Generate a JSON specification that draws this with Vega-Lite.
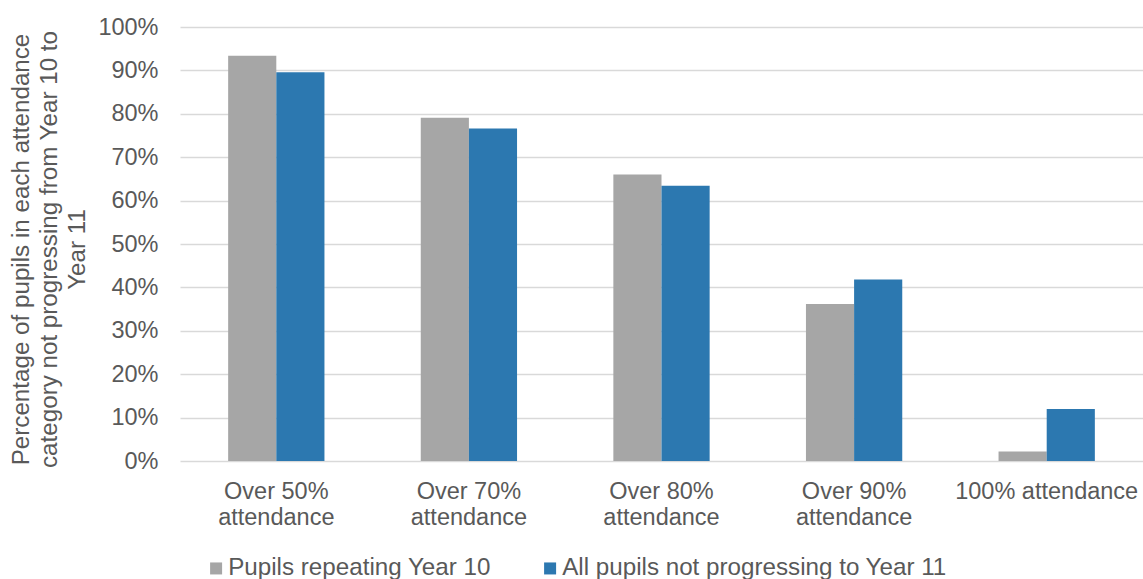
{
  "$schema": "https://vega.github.io/schema/vega-lite/v6.json",
  "width": 963,
  "height": 434,
  "autosize": "none",
  "padding": {"left": 180, "top": 27, "right": 0, "bottom": 118},
  "background": "white",
  "config": {
    "font": "Liberation Sans",
    "view": {"stroke": null}
  },
  "data": {
    "values": [
      {"category": "Over 50% attendance", "series": "Pupils repeating Year 10", "value": 0.934},
      {"category": "Over 50% attendance", "series": "All pupils not progressing to Year 11", "value": 0.896},
      {"category": "Over 70% attendance", "series": "Pupils repeating Year 10", "value": 0.791},
      {"category": "Over 70% attendance", "series": "All pupils not progressing to Year 11", "value": 0.766},
      {"category": "Over 80% attendance", "series": "Pupils repeating Year 10", "value": 0.660},
      {"category": "Over 80% attendance", "series": "All pupils not progressing to Year 11", "value": 0.634},
      {"category": "Over 90% attendance", "series": "Pupils repeating Year 10", "value": 0.362},
      {"category": "Over 90% attendance", "series": "All pupils not progressing to Year 11", "value": 0.418},
      {"category": "100% attendance", "series": "Pupils repeating Year 10", "value": 0.022},
      {"category": "100% attendance", "series": "All pupils not progressing to Year 11", "value": 0.120}
    ]
  },
  "mark": {"type": "bar"},
  "encoding": {
    "x": {
      "field": "category",
      "type": "nominal",
      "sort": null,
      "scale": {"paddingInner": 0.5, "paddingOuter": 0.25},
      "axis": {
        "title": null,
        "labelAngle": 0,
        "labelExpr": "indexof(datum.value, 'Over') == 0 ? [slice(datum.value, 0, 8), 'attendance'] : datum.value",
        "labelFontSize": 23.5,
        "labelLineHeight": 26,
        "labelColor": "#595959",
        "labelPadding": 18,
        "labelBaseline": "top",
        "labelLimit": 400,
        "domain": false,
        "ticks": false,
        "grid": false
      }
    },
    "xOffset": {
      "field": "series",
      "type": "nominal",
      "sort": ["Pupils repeating Year 10", "All pupils not progressing to Year 11"]
    },
    "y": {
      "field": "value",
      "type": "quantitative",
      "scale": {"domain": [0, 1]},
      "axis": {
        "values": [0, 0.1, 0.2, 0.3, 0.4, 0.5, 0.6, 0.7, 0.8, 0.9, 1],
        "format": ".0%",
        "labelFontSize": 23.5,
        "labelColor": "#595959",
        "labelPadding": 22,
        "domain": false,
        "ticks": false,
        "grid": true,
        "gridColor": "#D9D9D9",
        "gridWidth": 1.3,
        "title": ["Percentage of pupils in each attendance", "category not progressing from Year 10 to", "Year 11"],
        "titleFontSize": 24.2,
        "titleFontWeight": "normal",
        "titleColor": "#595959",
        "titleLineHeight": 28,
        "titleAngle": -90,
        "titleAlign": "center",
        "titleBaseline": "middle",
        "titleX": -159,
        "titleY": 222
      }
    },
    "color": {
      "field": "series",
      "type": "nominal",
      "sort": ["Pupils repeating Year 10", "All pupils not progressing to Year 11"],
      "scale": {
        "domain": ["Pupils repeating Year 10", "All pupils not progressing to Year 11"],
        "range": ["#A6A6A6", "#2C78B0"]
      },
      "legend": {
        "title": null,
        "orient": "none",
        "direction": "horizontal",
        "legendX": 24,
        "legendY": 529,
        "symbolType": "square",
        "symbolSize": 144,
        "symbolStrokeWidth": 0,
        "labelFontSize": 24.2,
        "labelColor": "#595959",
        "labelOffset": 0,
        "labelLimit": 600,
        "columnPadding": 47
      }
    }
  }
}
